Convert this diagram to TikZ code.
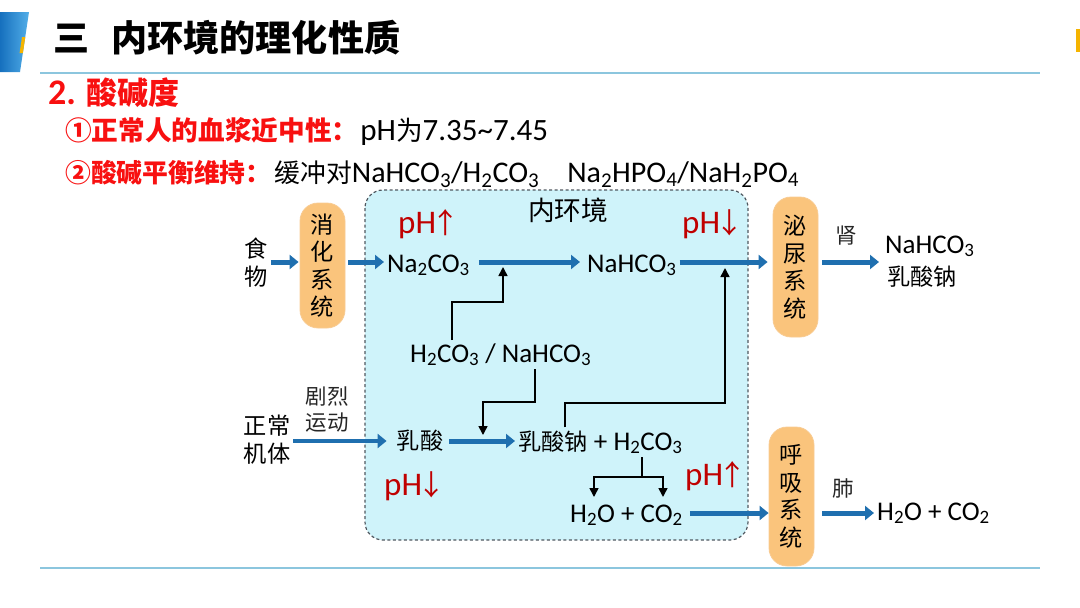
\documentclass[tikz,border=0pt]{standalone}
\usepackage{fontspec}
\setmainfont{Carlito}
\newfontfamily\cjk{Noto Sans CJK SC}[Scale=0.86]
\usetikzlibrary{arrows.meta}
\definecolor{flowblue}{HTML}{1F6FAF}
\definecolor{hdred}{HTML}{F81010}
\definecolor{phred}{HTML}{C00000}
\definecolor{envfill}{HTML}{CFF3FA}
\definecolor{envgray}{HTML}{505860}
\definecolor{boxmid}{HTML}{FEE2BC}
\definecolor{boxedge}{HTML}{FAC47C}
\definecolor{boxline}{HTML}{F8CB92}
\definecolor{rulebl}{HTML}{8CC6DE}
\definecolor{hdblueA}{HTML}{1670BE}
\definecolor{hdblueB}{HTML}{52AEE8}
\definecolor{hdyellow}{HTML}{F5B400}
\newcommand{\ssub}[1]{\textsubscript{#1}}
\begin{document}
\begin{tikzpicture}
	[x=1pt,y=-1pt,
	txt/.style={font=\fontsize{27}{29}\selectfont,inner sep=3pt,align=center},
	cjktxt/.style={font=\fontsize{27}{28}\selectfont\cjk,inner sep=3pt,align=center},
	small/.style={font=\fontsize{25}{26}\selectfont\cjk,inner sep=2pt,align=center,text=black!85},
	phlabel/.style={font=\fontsize{33}{36}\selectfont,text=phred,inner sep=0pt,anchor=base west},
	sysbox/.style={draw=boxline,line width=0.8pt,left color=boxedge,middle color=boxmid,right color=boxedge,
		rounded corners=18pt,minimum width=45pt,inner sep=0pt,align=center,font=\fontsize{27}{27.5}\selectfont\cjk},
	envbox/.style={fill=envfill,draw=envgray,line width=1.2pt,dash pattern=on 3pt off 2.5pt,rounded corners=18pt},
	flow/.style={draw=flowblue,line width=5pt,-{Triangle[length=9pt,width=14pt]}},
	link/.style={draw=black,line width=1.6pt,-{Triangle[length=9pt,width=9pt]}}]
	\useasboundingbox (0,0) rectangle (1080,608);
	% header
	\shade[left color=hdblueA,right color=hdblueB] (0,12) -- (29,12) -- (20,72) -- (0,72) -- cycle;
	\fill[hdyellow] (22,37) -- (25.3,37) -- (22.9,53) -- (19.6,53) -- cycle;
	\fill[hdyellow] (1076,29) rectangle (1080,52);
	\draw[rulebl,line width=2pt] (40,72.5) -- (1040,72.5);
	\draw[rulebl,line width=2pt] (40,568) -- (1040,568);
	\node[name=title,anchor=west,inner sep=0pt,font=\fontsize{42}{46}\selectfont\bfseries] at (53,38) {\cjk 三\hspace{22pt}内环境的理化性质};
	\node[name=sec,anchor=west,inner sep=0pt,text=hdred,font=\fontsize{36}{40}\selectfont\bfseries] at (48,93) {2. {\cjk 酸碱度}};
	\node[name=item1,anchor=base west,inner sep=0pt,font=\fontsize{31}{34}\selectfont] at (65,140)
		{\textcolor{hdred}{\bfseries\cjk ①正常人的血浆近中性：}\hspace{2pt}pH{\cjk 为}7.35\textasciitilde 7.45};
	\node[name=item2,anchor=base west,inner sep=0pt,font=\fontsize{30}{34}\selectfont] at (65,182)
		{\textcolor{hdred}{\bfseries\cjk ②酸碱平衡维持：}\hspace{3pt}{\cjk 缓冲对}NaHCO\ssub{3}/H\ssub{2}CO\ssub{3}\hspace{28pt}Na\ssub{2}HPO\ssub{4}/NaH\ssub{2}PO\ssub{4}};
	% inner environment
	\draw[envbox] (365,190) rectangle (748,540);
	\node[cjktxt,name=env,font=\fontsize{31}{34}\selectfont\cjk] at (568,210) {内环境};
	\node[phlabel,name=phA] at (398,233) {pH\kern-5pt{\cjk ↑}};
	\node[phlabel,name=phB] at (682,233) {pH\kern-5pt{\cjk ↓}};
	\node[phlabel,name=phC] at (384,495) {pH\kern-5pt{\cjk ↓}};
	\node[phlabel,name=phD] at (685,485) {pH\kern-5pt{\cjk ↑}};
	% upper row
	\node[cjktxt,name=food] at (256,263) {食\\物};
	\node[sysbox,name=digest,minimum height=125pt] at (322.5,265.5) {消\\化\\系\\统};
	\node[txt,name=na2co3,anchor=base west] at (384,272) {Na\ssub{2}CO\ssub{3}};
	\node[txt,name=nahco3,anchor=base west] at (584,272) {NaHCO\ssub{3}};
	\node[txt,name=buffer,anchor=base west] at (407,362) {H\ssub{2}CO\ssub{3} / NaHCO\ssub{3}};
	\node[sysbox,name=urine,minimum height=140pt] at (795.5,267) {泌\\尿\\系\\统};
	\node[small,name=kidney] at (846,236) {肾};
	\node[txt,name=kout1,anchor=base west] at (882,253) {NaHCO\ssub{3}};
	\node[cjktxt,name=kout2] at (922,277) {乳酸钠};
	% lower row
	\node[cjktxt,name=body] at (267,440) {正常\\机体};
	\node[small,name=sport] at (327,410) {剧烈\\运动};
	\node[cjktxt,name=lactic] at (420,441) {乳酸};
	\node[txt,name=lactate,anchor=base west] at (515,450) {{\cjk 乳酸钠} + H\ssub{2}CO\ssub{3}};
	\node[txt,name=water,anchor=base west] at (567,522) {H\ssub{2}O + CO\ssub{2}};
	\node[sysbox,name=resp,minimum height=139pt] at (791.5,496.5) {呼\\吸\\系\\统};
	\node[small,name=lung] at (843,488) {肺};
	\node[txt,name=lout,anchor=base west] at (874,520) {H\ssub{2}O + CO\ssub{2}};
	% rows and bends
	\coordinate (r1) at (0,262);
	\coordinate (r2) at (0,441);
	\coordinate (r3) at (0,513);
	\coordinate (b1) at (452,302);
	\coordinate (t1) at (503,267);
	\coordinate (b2) at (535,402);
	\coordinate (t2) at (483,435);
	\coordinate (b3) at (565,403);
	\coordinate (t3) at (725,268);
	\coordinate (b4) at (642,477);
	\coordinate (t4) at (594,497);
	\coordinate (t5) at (663,497);
	% blue arrows
	\draw[flow,shorten >=1pt] (food.east |- r1) -- (digest.west |- r1);
	\draw[flow,shorten <=3pt] (digest.east |- r1) -- (na2co3.west |- r1);
	\draw[flow,shorten <=6pt,shorten >=4pt] (na2co3.east |- r1) -- (nahco3.west |- r1);
	\draw[flow,shorten >=5pt] (nahco3.east |- r1) -- (urine.west |- r1);
	\draw[flow,shorten <=4pt,shorten >=3pt] (urine.east |- r1) -- (kout1.west |- r1);
	\draw[flow,line width=4pt,shorten >=7pt] (body.east |- r2) -- (lactic.west |- r2);
	\draw[flow,shorten <=3pt] (lactic.east |- r2) -- (lactate.west |- r2);
	\draw[flow,shorten <=4pt] (water.east |- r3) -- (resp.west |- r3);
	\draw[flow,shorten <=8pt] (resp.east |- r3) -- (lout.west |- r3);
	% black links
	\draw[link] (buffer.north -| b1) -- (b1) -| (t1);
	\draw[link] (buffer.south -| b2) -- (b2) -| (t2);
	\draw[link] (lactate.north -| b3) -- (b3) -| (t3);
	\draw[line width=1.6pt] (lactate.south -| b4) -- (b4);
	\draw[link] (b4) -| (t4);
	\draw[link] (b4) -| (t5);
\end{tikzpicture}
\end{document}
